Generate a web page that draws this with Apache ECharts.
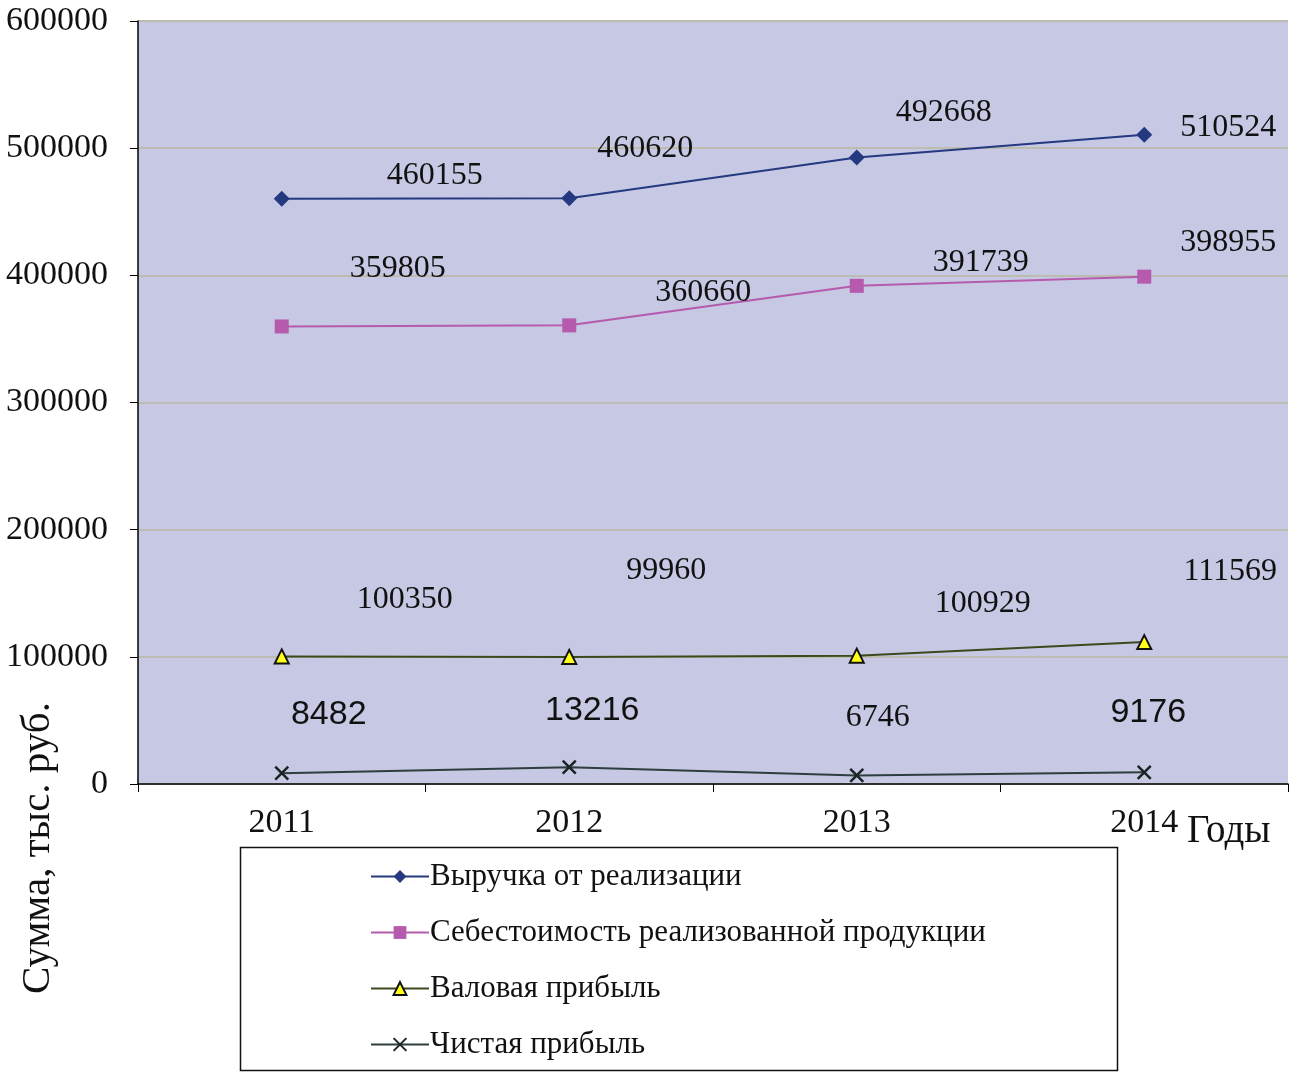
<!DOCTYPE html>
<html>
<head>
<meta charset="utf-8">
<script src="https://cdn.jsdelivr.net/npm/echarts@6/dist/echarts.min.js"></script>
<style>
  html, body { margin: 0; padding: 0; background: #fff; }
  #chart { width: 1295px; height: 1079px; }
</style>
</head>
<body>
<div id="chart"></div>
<script>
// Years on the category axis
const years = ['2011', '2012', '2013', '2014'];

// Values, thousand roubles
const revenue = [460155, 460620, 492668, 510524];     // Выручка от реализации
const costOfSales = [359805, 360660, 391739, 398955]; // Себестоимость реализованной продукции
const grossProfit = [100350, 99960, 100929, 111569];  // Валовая прибыль
const netProfit = [8482, 13216, 6746, 9176];          // Чистая прибыль

// Value axis ticks
const yTicks = [0, 100000, 200000, 300000, 400000, 500000, 600000];

// Label placement relative to each point (pixels)
const revenueLabelShift = [[153, -23], [76, -50], [87, -45], [84, -7]];
const costLabelShift = [[116, -58], [134, -33], [124, -23], [84, -34]];
const grossLabelShift = [[123, -57], [97, -86], [126, -52], [86, -71]];
const netLabelShift = [[47, -59], [23, -57], [21, -58], [4, -60]];

const serif = '"Liberation Serif", "DejaVu Serif", serif';
const sans = '"Liberation Sans", Arial, sans-serif';

function withLabels(values, shifts, font, size) {
  return values.map((v, i) => ({
    value: v,
    label: {
      show: true,
      position: 'inside',
      offset: shifts[i],
      fontFamily: font,
      fontSize: size,
      color: '#111'
    }
  }));
}

const chart = echarts.init(document.getElementById('chart'), null, { renderer: 'canvas' });

chart.setOption({
  animation: false,
  backgroundColor: '#ffffff',
  grid: {
    left: 138, right: 7, top: 21, bottom: 295,
    show: true,
    backgroundColor: '#C6C8E4',
    borderWidth: 0
  },
  legend: {
    orient: 'vertical',
    left: 365,
    top: 856,
    itemWidth: 58,
    itemHeight: 16,
    itemGap: 25,
    textStyle: { fontFamily: serif, fontSize: 31, color: '#111', padding: [0, 0, 0, -4] },
    data: ['Выручка от реализации', 'Себестоимость реализованной продукции', 'Валовая прибыль', 'Чистая прибыль']
  },
  xAxis: {
    type: 'category',
    data: years,
    boundaryGap: true,
    axisLine: { show: true, lineStyle: { color: '#000', width: 1.5 } },
    axisTick: { show: true, length: 8, inside: false, lineStyle: { color: '#000' } },
    axisLabel: { fontFamily: serif, fontSize: 34, color: '#111', margin: 22 },
    splitLine: { show: false }
  },
  yAxis: {
    type: 'value',
    min: yTicks[0],
    max: yTicks[yTicks.length - 1],
    interval: yTicks[1] - yTicks[0],
    axisLine: { show: true, lineStyle: { color: '#000', width: 1.5 } },
    axisTick: { show: true, length: 8, lineStyle: { color: '#000' } },
    axisLabel: {
      fontFamily: serif, fontSize: 34, color: '#111', margin: 30,
      formatter: (v) => String(v)
    },
    splitLine: { show: true, lineStyle: { color: '#BDBCB0', width: 2 } }
  },
  series: [
    {
      name: 'Выручка от реализации',
      type: 'line',
      data: withLabels(revenue, revenueLabelShift, serif, 32),
      symbol: 'diamond',
      symbolSize: 16,
      itemStyle: { color: '#24397F' },
      lineStyle: { color: '#24397F', width: 2 }
    },
    {
      name: 'Себестоимость реализованной продукции',
      type: 'line',
      data: withLabels(costOfSales, costLabelShift, serif, 32),
      symbol: 'rect',
      symbolSize: 14,
      itemStyle: { color: '#B65AAE' },
      lineStyle: { color: '#B65AAE', width: 2 }
    },
    {
      name: 'Валовая прибыль',
      type: 'line',
      data: withLabels(grossProfit, grossLabelShift, serif, 32),
      symbol: 'triangle',
      symbolSize: 14,
      itemStyle: { color: '#FFFF1A', borderColor: '#111', borderWidth: 2 },
      lineStyle: { color: '#3B4A1C', width: 2 }
    },
    {
      name: 'Чистая прибыль',
      type: 'line',
      data: netProfit.map((v, i) => ({
        value: v,
        label: {
          show: true,
          position: 'inside',
          offset: netLabelShift[i],
          fontFamily: i === 2 ? serif : sans,
          fontSize: i === 2 ? 32 : 34,
          color: '#111'
        }
      })),
      symbol: 'path://M0,0L10,10M10,0L0,10',
      symbolSize: 13,
      itemStyle: { color: 'rgba(0,0,0,0)', borderColor: '#1A2424', borderWidth: 2.5 },
      lineStyle: { color: '#2E3E3E', width: 2 }
    }
  ],
  graphic: [
    {
      type: 'rect',
      left: 238, top: 845,
      shape: { width: 877, height: 223 },
      style: { fill: 'none', stroke: '#111', lineWidth: 1.5 },
      silent: true
    },
    {
      type: 'text',
      x: 38, y: 848,
      rotation: Math.PI / 2,
      style: {
        text: 'Сумма, тыс. руб.',
        font: '41px ' + serif,
        fill: '#111',
        align: 'center',
        verticalAlign: 'middle'
      }
    },
    {
      type: 'text',
      x: 1187, y: 832,
      style: {
        text: 'Годы',
        font: '39px ' + serif,
        fill: '#111',
        align: 'left',
        verticalAlign: 'middle'
      }
    }
  ]
});
</script>
</body>
</html>
